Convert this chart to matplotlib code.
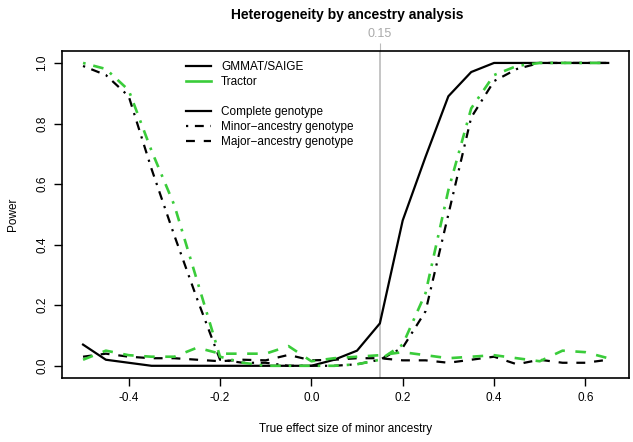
import numpy as np
import matplotlib
matplotlib.use('Agg')
import matplotlib.pyplot as plt
from matplotlib.lines import Line2D

plt.rcParams['font.family'] = ['Liberation Sans', 'DejaVu Sans']
plt.rcParams['axes.unicode_minus'] = False

# effect sizes of minor ancestry
effect = [-0.5, -0.45, -0.4, -0.35, -0.3, -0.25, -0.2, -0.15, -0.1, -0.05, 0.0, 0.05,
          0.1, 0.15, 0.2, 0.25, 0.3, 0.35, 0.4, 0.45, 0.5, 0.55, 0.6, 0.65]

gmmat_complete = [0.07, 0.02, 0.01, 0.0, 0.0, 0.0, 0.0, 0.0, 0.0, 0.0, 0.0, 0.02,
                  0.05, 0.14, 0.48, 0.69, 0.89, 0.97, 1.0, 1.0, 1.0, 1.0, 1.0, 1.0]
gmmat_minor = [0.99, 0.96, 0.89, 0.65, 0.43, 0.22, 0.02, 0.01, 0.01, 0.0, 0.0, 0.0,
               0.005, 0.02, 0.06, 0.18, 0.50, 0.82, 0.94, 0.98, 1.0, 1.0, 1.0, 1.0]
gmmat_major = [0.03, 0.04, 0.03, 0.025, 0.025, 0.02, 0.015, 0.02, 0.018, 0.036, 0.018, 0.02,
               0.025, 0.025, 0.018, 0.018, 0.01, 0.02, 0.03, 0.005, 0.02, 0.01, 0.01, 0.02]
tractor_minor = [1.0, 0.98, 0.91, 0.71, 0.53, 0.28, 0.03, 0.01, 0.0, 0.0, 0.0, 0.0,
                 0.005, 0.02, 0.07, 0.24, 0.58, 0.85, 0.96, 0.99, 1.0, 1.0, 1.0, 1.0]
tractor_major = [0.02, 0.05, 0.035, 0.03, 0.03, 0.06, 0.04, 0.04, 0.04, 0.065, 0.015, 0.025,
                 0.03, 0.035, 0.045, 0.035, 0.025, 0.03, 0.035, 0.025, 0.015, 0.05, 0.045, 0.025]

green = '#3acc3a'
dotdash = (0, (1, 3, 4, 3))
dash = (0, (4, 4))
lw = 1.6

fig = plt.figure(figsize=(6.33, 4.42), dpi=100)
ax = fig.add_axes([0.098, 0.145, 0.896, 0.740])

ax.axvline(0.15, color='#bbbbbb', lw=1.2, zorder=1)
ax.plot(effect, gmmat_complete, color='black', lw=lw, ls='-', zorder=3)
ax.plot(effect, gmmat_minor, color='black', lw=lw, ls=dotdash, zorder=3)
ax.plot(effect, gmmat_major, color='black', lw=lw, ls=dash, zorder=3)
ax.plot(effect, tractor_minor, color=green, lw=lw + 0.3, ls=dotdash, zorder=4)
ax.plot(effect, tractor_major, color=green, lw=lw + 0.3, ls=dash, zorder=4)

ax.set_xlim(-0.546, 0.696)
ax.set_ylim(-0.04, 1.04)
ax.set_xticks([-0.4, -0.2, 0.0, 0.2, 0.4, 0.6])
ax.set_xticklabels(['-0.4', '-0.2', '0.0', '0.2', '0.4', '0.6'])
ax.set_yticks([0.0, 0.2, 0.4, 0.6, 0.8, 1.0])
ax.set_yticklabels(['0.0', '0.2', '0.4', '0.6', '0.8', '1.0'], rotation=90, va='center')
ax.tick_params(direction='out', length=6, width=1, labelsize=8.5, pad=4)
for s in ax.spines.values():
    s.set_linewidth(1.2)

top = ax.secondary_xaxis('top')
top.set_xticks([0.15])
top.set_xticklabels(['0.15'])
top.tick_params(direction='out', length=6, color='#bbbbbb', labelcolor='#aaaaaa',
                labelsize=9, pad=2)
top.spines['top'].set_visible(False)

ax.set_xlabel('True effect size of minor ancestry', fontsize=8.5, labelpad=14)
ax.set_ylabel('Power', fontsize=8.5, labelpad=12)
fig.text(0.548, 0.967, 'Heterogeneity by ancestry analysis', ha='center', va='center',
         fontsize=10, fontweight='bold')

handles = [
    Line2D([], [], color='black', lw=lw),
    Line2D([], [], color=green, lw=lw + 0.3),
    Line2D([], [], color='none'),
    Line2D([], [], color='black', lw=lw),
    Line2D([], [], color='black', lw=lw, ls=dotdash),
    Line2D([], [], color='black', lw=lw, ls=dash),
]
labels = ['GMMAT/SAIGE', 'Tractor', '', 'Complete genotype',
          'Minor\u2212ancestry genotype', 'Major\u2212ancestry genotype']
ax.legend(handles, labels, loc='upper left', bbox_to_anchor=(0.2, 1.0), frameon=False,
          fontsize=8.5, handlelength=2.1, handletextpad=0.85, labelspacing=0.25)

plt.savefig('out.png', dpi=100)
